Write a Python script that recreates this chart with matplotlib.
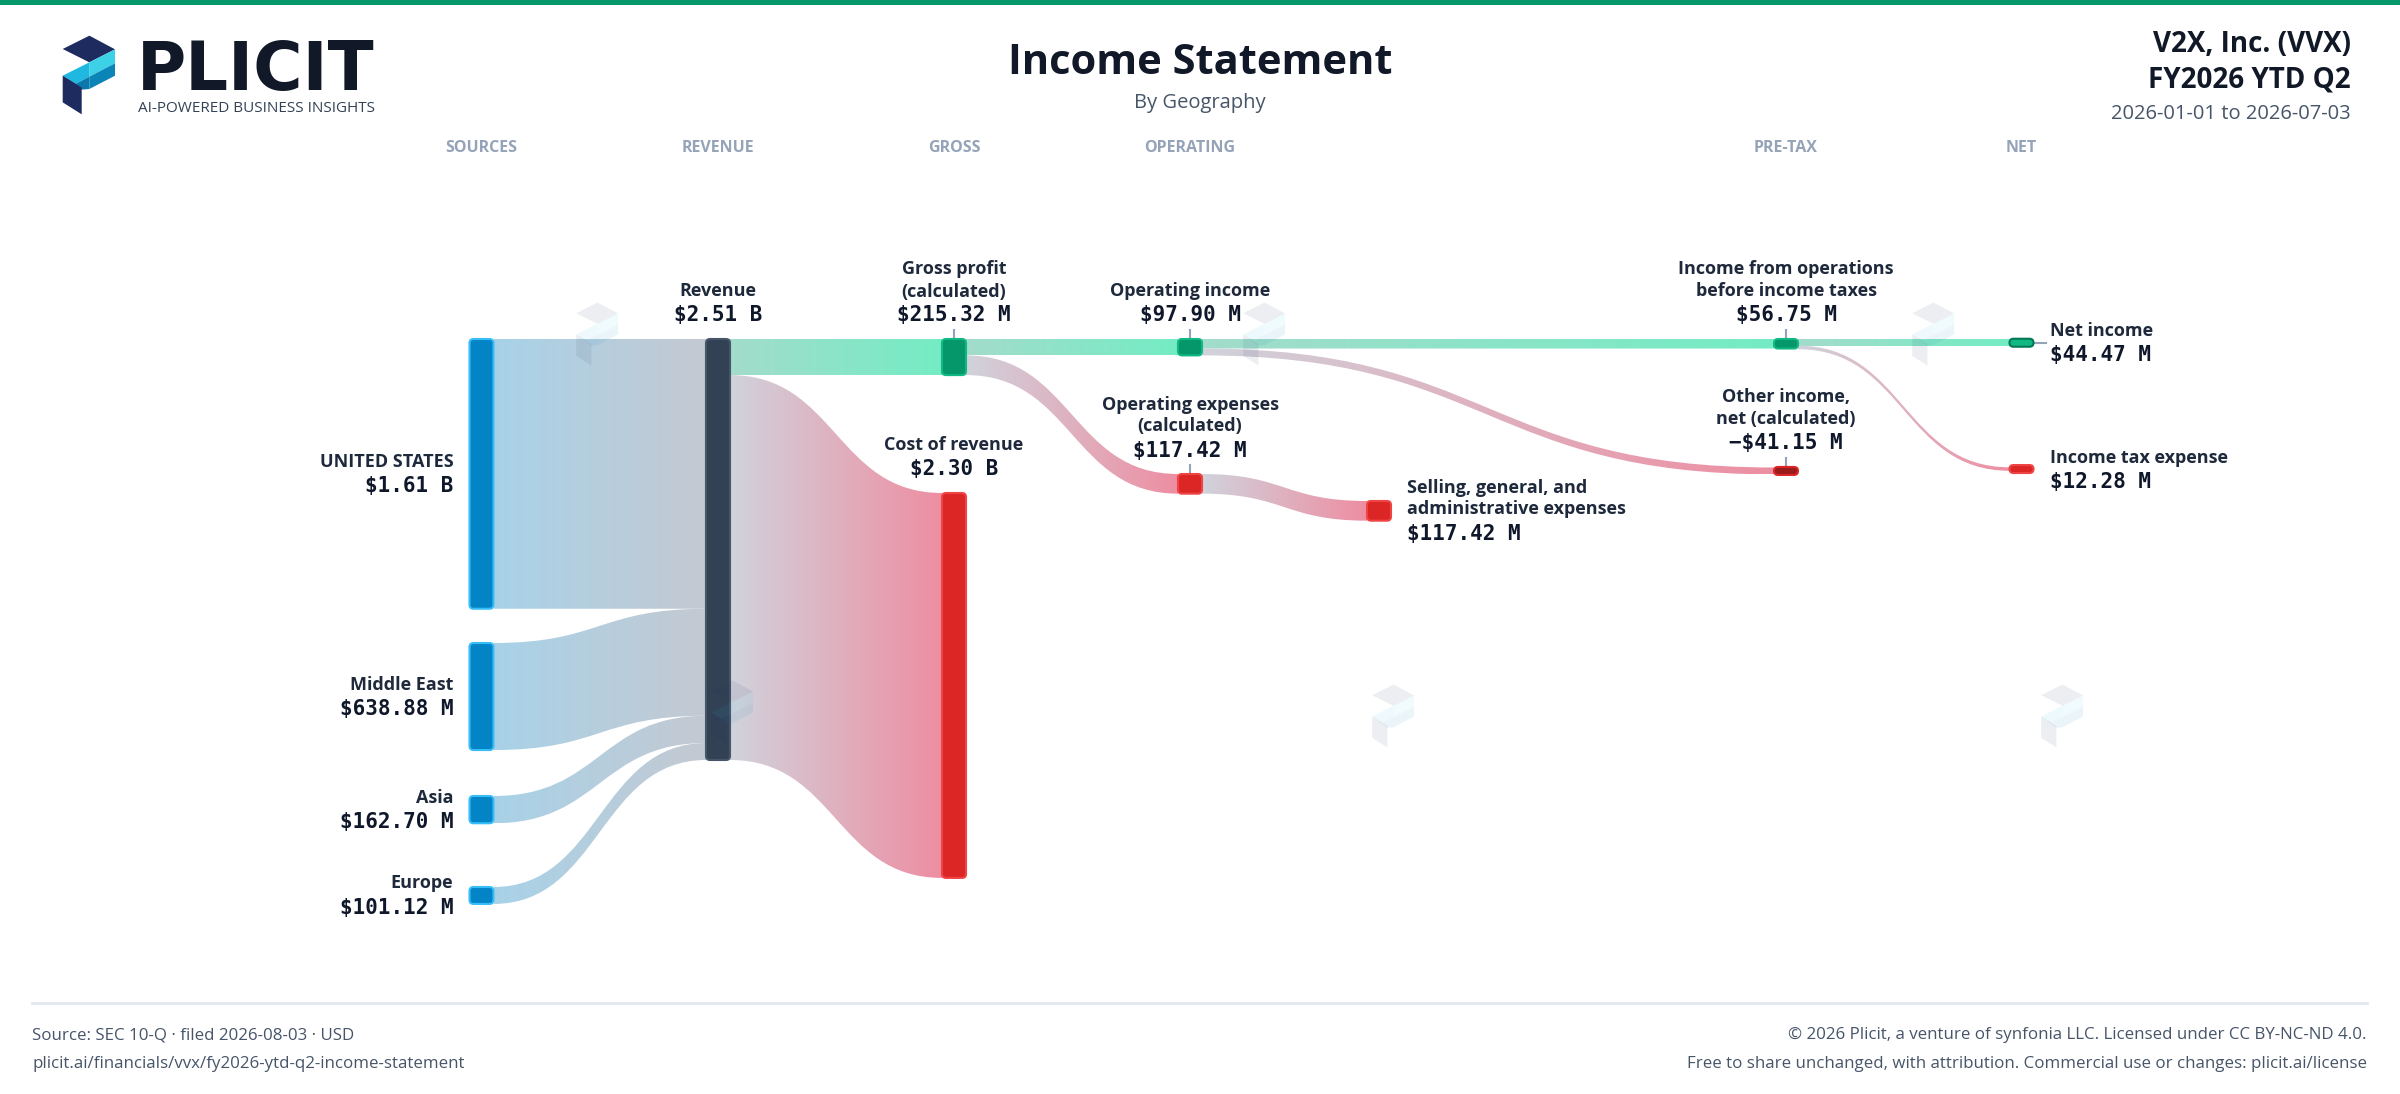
import numpy as np
import matplotlib
matplotlib.use("Agg")
import matplotlib.pyplot as plt
from matplotlib.path import Path
from matplotlib.patches import PathPatch, FancyBboxPatch, Polygon
from matplotlib.colors import LinearSegmentedColormap
from matplotlib import font_manager

# ---- data ($M) ----
SOURCE_NAMES = ["UNITED STATES", "Middle East", "Asia", "Europe"]
SOURCE_VALUES = [1610.00, 638.88, 162.70, 101.12]
GROSS_PROFIT = 215.32
OPERATING_EXPENSES = 117.42
SGA_EXPENSES = 117.42
OTHER_INCOME = -41.15
INCOME_TAX = 12.28
COLUMN_LABELS = ["SOURCES", "REVENUE", "GROSS", "OPERATING", "PRE-TAX", "NET"]

REVENUE = sum(SOURCE_VALUES)
COST_OF_REVENUE = REVENUE - GROSS_PROFIT
OPERATING_INCOME = GROSS_PROFIT - OPERATING_EXPENSES
PRETAX_INCOME = OPERATING_INCOME + OTHER_INCOME
NET_INCOME = PRETAX_INCOME - INCOME_TAX

# ---- layout (pixels) ----
W, H = 2400, 1094
SCALE = 421 / REVENUE          # px per $M
NODE_W = 24
COL_X = [481.5, 718, 954, 1190, 1786, 2021.5]
SGA_X = 1379
SOURCE_TOPS = [339, 643, 796, 887]

names = {f.name for f in font_manager.fontManager.ttflist}
NARROW = "Liberation Sans Narrow" if "Liberation Sans Narrow" in names else "Open Sans"
SANS = "Open Sans"
MONO = "DejaVu Sans Mono"

INK = "#0f172a"
LABEL = "#1e293b"
GRAY_TXT = "#475569"

fig = plt.figure(figsize=(W / 100, H / 100), dpi=100)
ax = fig.add_axes([0, 0, 1, 1])
ax.set_axis_off()


def fmt(v):
    sign = "\u2212" if v < 0 else ""
    v = abs(v)
    if v >= 1000:
        return f"{sign}${v / 1000:.2f} B"
    return f"{sign}${v:.2f} M"


# nodes: value, x, top, colours, label, label side, tick
nodes = {}
for i, (n, v) in enumerate(zip(SOURCE_NAMES, SOURCE_VALUES)):
    nodes[n] = dict(v=v, x=COL_X[0], top=SOURCE_TOPS[i], fc="#0284c7", ec="#38bdf8",
                    name=n, side="left", tick=False)
nodes["rev"] = dict(v=REVENUE, x=COL_X[1], top=339, fc="#334155", ec="#475569",
                    name="Revenue", side="top", tick=False)
nodes["gross"] = dict(v=GROSS_PROFIT, x=COL_X[2], top=339, fc="#059669", ec="#10b981",
                      name="Gross profit\n(calculated)", side="top", tick=True)
nodes["cost"] = dict(v=COST_OF_REVENUE, x=COL_X[2], top=493, fc="#dc2626", ec="#ef4444",
                     name="Cost of revenue", side="top", tick=False)
nodes["opinc"] = dict(v=OPERATING_INCOME, x=COL_X[3], top=339, fc="#059669", ec="#10b981",
                      name="Operating income", side="top", tick=True)
nodes["opex"] = dict(v=OPERATING_EXPENSES, x=COL_X[3], top=474, fc="#dc2626", ec="#ef4444",
                     name="Operating expenses\n(calculated)", side="top", tick=True)
nodes["sga"] = dict(v=SGA_EXPENSES, x=SGA_X, top=501, fc="#dc2626", ec="#ef4444",
                    name="Selling, general, and\nadministrative expenses", side="right", tick=False)
nodes["pretax"] = dict(v=PRETAX_INCOME, x=COL_X[4], top=339, fc="#059669", ec="#10b981",
                       name="Income from operations\nbefore income taxes", side="top", tick=True)
nodes["other"] = dict(v=OTHER_INCOME, x=COL_X[4], top=467.5, fc="#991b1b", ec="#dc2626",
                      name="Other income,\nnet (calculated)", side="top", tick=True)
nodes["net"] = dict(v=NET_INCOME, x=COL_X[5], top=339, fc="#10b981", ec="#047857",
                    name="Net income", side="right", tick=True)
nodes["tax"] = dict(v=INCOME_TAX, x=COL_X[5], top=468, fc="#dc2626", ec="#ef4444",
                    name="Income tax expense", side="right", tick=False)

BLUE = ("#a8d2e8", "#c4c9d2")
GREEN = ("#a3dccb", "#74ecc4")
RED = ("#d0d3dc", "#ee8ea2")
flows = [(n, "rev", v, BLUE) for n, v in zip(SOURCE_NAMES, SOURCE_VALUES)]
flows += [
    ("rev", "gross", GROSS_PROFIT, GREEN),
    ("rev", "cost", COST_OF_REVENUE, RED),
    ("gross", "opinc", OPERATING_INCOME, GREEN),
    ("gross", "opex", OPERATING_EXPENSES, RED),
    ("opinc", "pretax", PRETAX_INCOME, GREEN),
    ("opinc", "other", abs(OTHER_INCOME), RED),
    ("opex", "sga", SGA_EXPENSES, RED),
    ("pretax", "net", NET_INCOME, GREEN),
    ("pretax", "tax", INCOME_TAX, RED),
]


def link(x0, y0, x1, y1, w, c0, c1):
    xm = (x0 + x1) / 2
    verts = [(x0, y0), (xm, y0), (xm, y1), (x1, y1),
             (x1, y1 + w), (xm, y1 + w), (xm, y0 + w), (x0, y0 + w), (x0, y0)]
    codes = [Path.MOVETO, Path.CURVE4, Path.CURVE4, Path.CURVE4,
             Path.LINETO, Path.CURVE4, Path.CURVE4, Path.CURVE4, Path.CLOSEPOLY]
    patch = PathPatch(Path(verts, codes), facecolor="none", edgecolor="none")
    ax.add_patch(patch)
    cmap = LinearSegmentedColormap.from_list("g", [c0, c1])
    im = ax.imshow(np.linspace(0, 1, 256)[None, :], cmap=cmap, aspect="auto",
                   extent=[x0, x1, max(y0, y1) + w, min(y0, y1)], zorder=1,
                   interpolation="bilinear")
    im.set_clip_path(patch)


out_off = {k: 0.0 for k in nodes}
in_off = {k: 0.0 for k in nodes}
for s, d, v, col in flows:
    w = v * SCALE
    ys = nodes[s]["top"] + out_off[s]
    yd = nodes[d]["top"] + in_off[d]
    out_off[s] += w
    in_off[d] += w
    # very thin links get a minimum visible width, kept centred
    vw = max(w, 3.5)
    link(nodes[s]["x"] + NODE_W / 2, ys + (w - vw) / 2,
         nodes[d]["x"] - NODE_W / 2, yd + (w - vw) / 2, vw, col[0], col[1])


# logo shape in crop units, centre (116, 150)
LOGO = [
    ("#1e2b5e", [(38, 72), (118, 32), (195, 73), (118, 112)]),
    ("#3dd1e8", [(118, 112), (195, 73), (195, 115), (118, 155)]),
    ("#0b84b8", [(118, 155), (195, 115), (195, 152), (118, 192)]),
    ("#1fb8e0", [(38, 152), (118, 112), (118, 155), (78, 176)]),
    ("#0a78ab", [(38, 152), (78, 176), (118, 155), (118, 192), (95, 194)]),
    ("#1e2b5e", [(38, 152), (95, 188), (95, 268), (38, 232)]),
]


def draw_logo(cx, cy, k, alpha, z):
    for color, pts in LOGO:
        p = [(cx + (a - 116) / 3 * k, cy + (b - 150) / 3 * k) for a, b in pts]
        ax.add_patch(Polygon(p, closed=True, facecolor=color, edgecolor="none",
                             alpha=alpha, zorder=z))


# nodes
for k, n in nodes.items():
    h = abs(n["v"]) * SCALE
    dh = max(h, 8)
    y = n["top"] + h / 2 - dh / 2
    n["dtop"], n["mid"] = y, y + dh / 2
    r = min(4, dh / 2)
    ax.add_patch(FancyBboxPatch((n["x"] - NODE_W / 2, y), NODE_W, dh,
                                boxstyle=f"round,pad=0,rounding_size={r}",
                                facecolor=n["fc"], edgecolor=n["ec"], lw=1.5, zorder=3))

# watermarks
for wx, wy in [(597, 334), (1264, 334), (1933, 334), (732, 712), (1393, 716), (2062, 716)]:
    draw_logo(wx, wy, 0.8, 0.08, 4)

# labels
name_kw = dict(family=NARROW, fontweight="bold", fontsize=13, color=LABEL, zorder=6)
val_kw = dict(family=MONO, fontweight="bold", fontsize=15, color=INK, zorder=6)
for k, n in nodes.items():
    lines = n["name"].split("\n")
    if n["side"] == "left":
        tx = n["x"] - NODE_W / 2 - 16
        ax.text(tx, n["mid"] - 7, lines[0], ha="right", va="baseline", **name_kw)
        ax.text(tx, n["mid"] + 18.5, fmt(n["v"]), ha="right", va="baseline", **val_kw)
    elif n["side"] == "top":
        top = n["dtop"]
        ax.text(n["x"], top - 17.5, fmt(n["v"]), ha="center", va="baseline", **val_kw)
        for j, ln in enumerate(reversed(lines)):
            ax.text(n["x"], top - 42.5 - 22 * j, ln, ha="center", va="baseline", **name_kw)
        if n["tick"]:
            ax.plot([n["x"], n["x"]], [top - 9, top], color="#94a3b8", lw=1.5, zorder=2)
    else:
        tx = n["x"] + NODE_W / 2 + 16
        m = n["mid"]
        if len(lines) == 2:
            ax.text(tx, m - 17.5, lines[0], ha="left", va="baseline", **name_kw)
            ax.text(tx, m + 3.5, lines[1], ha="left", va="baseline", **name_kw)
            ax.text(tx, m + 29.5, fmt(n["v"]), ha="left", va="baseline", **val_kw)
        else:
            ax.text(tx, m - 6.5, lines[0], ha="left", va="baseline", **name_kw)
            ax.text(tx, m + 18.5, fmt(n["v"]), ha="left", va="baseline", **val_kw)
        if n["tick"]:
            ax.plot([n["x"] + NODE_W / 2 + 1, n["x"] + NODE_W / 2 + 12], [m, m],
                    color="#94a3b8", lw=1.5, zorder=2)

# column headers
for lbl, cx in zip(COLUMN_LABELS, COL_X):
    ax.text(cx, 152.5, lbl, ha="center", va="baseline", family=NARROW, fontweight="bold",
            fontsize=11.5, color="#94a3b8")

# header
ax.add_patch(plt.Rectangle((0, 0), W, 5, facecolor="#059669", edgecolor="none"))
draw_logo(88.7, 75, 1.0, 1.0, 5)
ax.text(137, 90, "PLICIT", ha="left", va="baseline", family="DejaVu Sans",
        fontweight="bold", fontsize=48.5, color="#111827")
ax.text(138, 111.5, "AI-POWERED BUSINESS INSIGHTS", ha="left", va="baseline",
        family=SANS, fontsize=11, color="#334155")
ax.text(1200, 74, "Income Statement", ha="center", va="baseline", family=SANS,
        fontweight="bold", fontsize=30, color="#111827")
ax.text(1200, 108, "By Geography", ha="center", va="baseline", family=SANS,
        fontsize=14.5, color=GRAY_TXT)
ax.text(2351, 52, "V2X, Inc. (VVX)", ha="right", va="baseline", family=SANS,
        fontweight="bold", fontsize=20, color="#111827")
ax.text(2351, 87, "FY2026 YTD Q2", ha="right", va="baseline", family=SANS,
        fontweight="bold", fontsize=20, color="#111827")
ax.text(2351, 119, "2026-01-01 to 2026-07-03", ha="right", va="baseline", family=SANS,
        fontsize=14.5, color=GRAY_TXT)

# footer
ax.plot([32, 2367], [1003, 1003], color="#e2e8f0", lw=2)
foot = dict(family=SANS, fontsize=12.2, color=GRAY_TXT, va="baseline")
ax.text(32, 1039, "Source: SEC 10-Q \u00b7 filed 2026-08-03 \u00b7 USD", ha="left", **foot)
ax.text(32, 1068, "plicit.ai/financials/vvx/fy2026-ytd-q2-income-statement", ha="left", **foot)
ax.text(2367, 1039, "\u00a9 2026 Plicit, a venture of synfonia LLC. Licensed under CC BY-NC-ND 4.0.",
        ha="right", **foot)
ax.text(2367, 1068, "Free to share unchanged, with attribution. Commercial use or changes: plicit.ai/license",
        ha="right", **foot)

ax.set_xlim(0, W)
ax.set_ylim(H, 0)
fig.savefig("out.png", dpi=100, facecolor="white")
